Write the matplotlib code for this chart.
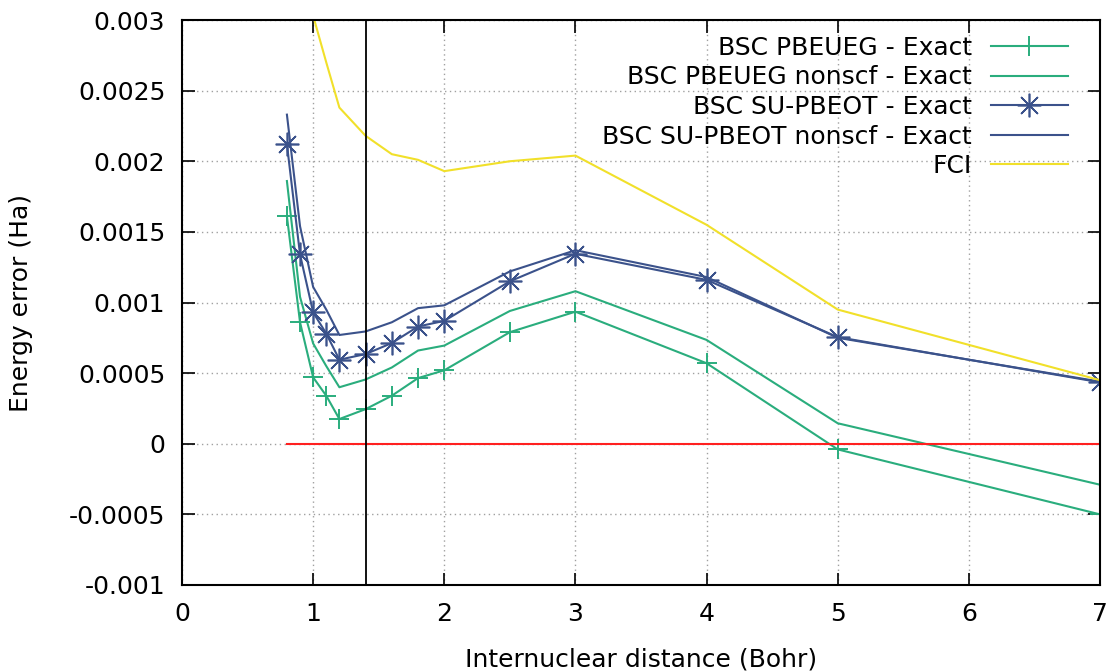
import matplotlib
matplotlib.use("Agg")
import matplotlib.pyplot as plt

# Data
x = [0.8, 0.9, 1.0, 1.1, 1.2, 1.4, 1.6, 1.8, 2.0, 2.5, 3.0, 4.0, 5.0, 7.0]
pbeueg = [0.00161, 0.00086, 0.00047, 0.00034, 0.000175, 0.000245, 0.00034,
          0.000465, 0.00052, 0.00079, 0.000935, 0.00057, -0.00004, -0.0005]
pbeueg_nonscf = [0.00186, 0.00104, 0.00071, 0.00055, 0.0004, 0.000455, 0.00054,
                 0.00066, 0.000695, 0.00094, 0.00108, 0.000735, 0.000145, -0.00029]
supbeot = [0.00212, 0.00134, 0.00093, 0.00078, 0.000595, 0.000635, 0.000713,
           0.00083, 0.00087, 0.00115, 0.001345, 0.00116, 0.000755, 0.000435]
supbeot_nonscf = [0.00233, 0.00154, 0.00111, 0.00095, 0.00077, 0.000795, 0.00086,
                  0.00096, 0.00098, 0.00122, 0.00137, 0.00118, 0.00075, 0.00044]
fci = [0.0048, 0.0039, 0.00303, 0.0027, 0.00238, 0.00218, 0.00205,
       0.00201, 0.00193, 0.002, 0.00204, 0.00155, 0.00095, 0.00045]
xticks = [0, 1, 2, 3, 4, 5, 6, 7]
yticks = [-0.001, -0.0005, 0, 0.0005, 0.001, 0.0015, 0.002, 0.0025, 0.003]
ytick_labels = ["-0.001", "-0.0005", "0", "0.0005", "0.001", "0.0015", "0.002", "0.0025", "0.003"]
xline = 1.4

green = "#2aad7d"
blue = "#3b528b"
yellow = "#f1e02a"
FS = 18

fig = plt.figure(figsize=(11.12, 6.72), dpi=100)
ax = fig.add_axes([182/1112, 1-585/672, (1100-182)/1112, (585-20)/672])

ax.plot(x, pbeueg, color=green, lw=1.5, marker="+", ms=14, mew=1.4,
        label="BSC PBEUEG - Exact")
ax.plot(x, pbeueg_nonscf, color=green, lw=1.5, label="BSC PBEUEG nonscf - Exact")
ax.plot(x, supbeot, color=blue, lw=1.5, marker=(8, 2, 0), ms=17, mew=1.2,
        label="BSC SU-PBEOT - Exact")
ax.plot(x, supbeot_nonscf, color=blue, lw=1.5, label="BSC SU-PBEOT nonscf - Exact")
ax.plot(x, fci, color=yellow, lw=1.5, label="FCI")
ax.plot([x[0], x[-1]], [0, 0], color="#ff2020", lw=1.5)
ax.axvline(xline, color="black", lw=1.3)

ax.set_xlim(0, 7)
ax.set_ylim(-0.001, 0.003)
ax.set_xticks(xticks)
ax.set_xticklabels([str(t) for t in xticks])
ax.set_yticks(yticks)
ax.set_yticklabels(ytick_labels)
ax.tick_params(direction="in", length=9, width=1.2, top=True, right=True,
               labelsize=FS, pad=12)
ax.tick_params(axis="x", pad=12)
for s in ax.spines.values():
    s.set_linewidth(1.5)
ax.grid(True, color="#a0a0a0", linestyle=(0, (1, 2.5)), lw=1)

ax.set_xlabel("Internuclear distance (Bohr)", fontsize=FS, labelpad=16)
ax.set_ylabel("Energy error (Ha)", fontsize=FS, labelpad=26)

leg = ax.legend(loc="upper right", bbox_to_anchor=((1068-182)/918, (585-36)/565),
                frameon=False, fontsize=FS, markerfirst=False, handlelength=3.1,
                labelspacing=0.22, handletextpad=0.75, borderpad=0, borderaxespad=0)
for t in leg.get_texts():
    t.set_ha("right")
    t.set_position((0, 0))
vp = leg._legend_box._children[1]
vp.align = "right"
for c in vp.get_children():
    c.align = "right"

fig.savefig("out.png", dpi=100)
